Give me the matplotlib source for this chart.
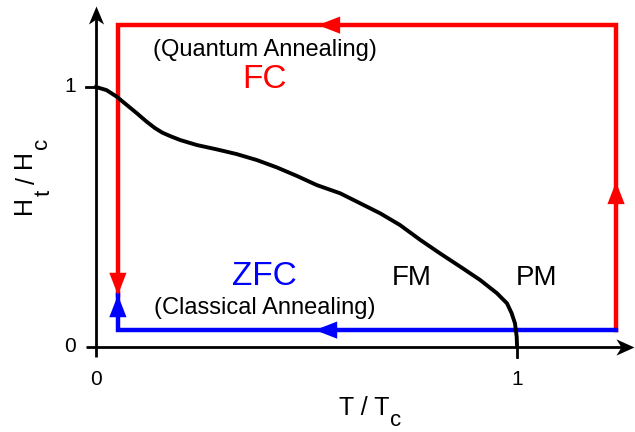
import matplotlib.pyplot as plt
import numpy as np
from matplotlib.path import Path

plt.rcParams['font.family'] = ['Liberation Sans', 'DejaVu Sans']

# phase boundary H_t/H_c vs T/T_c
curve_t = [0.0, 0.025, 0.049, 0.073, 0.097, 0.120, 0.140, 0.158, 0.178, 0.200, 0.239, 0.287,
           0.334, 0.382, 0.429, 0.477, 0.524, 0.580, 0.627, 0.675, 0.722, 0.770, 0.817,
           0.865, 0.912, 0.952, 0.976, 0.987, 0.995, 0.999, 1.0]
curve_h = [1.0, 0.988, 0.963, 0.931, 0.899, 0.867, 0.842, 0.824, 0.810, 0.796, 0.777, 0.760,
           0.742, 0.719, 0.691, 0.658, 0.623, 0.591, 0.553, 0.514, 0.469, 0.412, 0.360,
           0.309, 0.258, 0.207, 0.168, 0.130, 0.091, 0.040, 0.0]

# field-cooled loop (red) and zero-field-cooled path (blue)
fc_t = [1.235, 1.235, 0.052, 0.052]
fc_h = [0.065, 1.238, 1.238, 0.2]
zfc_t = [1.235, 0.052, 0.052]
zfc_h = [0.065, 0.065, 0.2]

# direction arrows: (tail, tip)
fc_arrows = [((1.235, 0.55), (1.235, 0.635)),
             ((0.60, 1.238), (0.527, 1.238)),
             ((0.052, 0.29), (0.052, 0.2))]
zfc_arrows = [((0.60, 0.065), (0.52, 0.065)),
              ((0.052, 0.11), (0.052, 0.2))]

RED = '#ff0000'
BLUE = '#0000ff'

fig = plt.figure(figsize=(6.35, 4.32), dpi=100)
ax = fig.add_axes([96/635, 85/432, 539/635, 338/432])
ax.set_xlim(0, 1.28)
ax.set_ylim(0, 1.3)
ax.axis('off')

def px(x, y):
    # figure pixel (from top-left) -> figure fraction
    return x / 635, 1 - y / 432

# axes with notched arrow heads
up_head = Path([(0, 0), (-0.42, -1), (0, -0.72), (0.42, -1), (0, 0)],
               [Path.MOVETO, Path.LINETO, Path.LINETO, Path.LINETO, Path.CLOSEPOLY])
right_head = Path([(0, 0), (-1, 0.45), (-0.72, 0), (-1, -0.45), (0, 0)],
                  [Path.MOVETO, Path.LINETO, Path.LINETO, Path.LINETO, Path.CLOSEPOLY])
ax.plot([-0.024, 1.26], [0, 0], color='k', lw=2, clip_on=False, solid_capstyle='butt')
ax.plot([0, 0], [-0.04, 1.29], color='k', lw=2, clip_on=False, solid_capstyle='butt')
ax.plot([1.278], [0], marker=right_head, ms=26, color='k', mec='none', clip_on=False)
ax.plot([0], [1.31], marker=up_head, ms=26, color='k', mec='none', clip_on=False)

# ticks
ax.plot([1, 1], [0, -0.04], color='k', lw=2, clip_on=False)
ax.plot([-0.024, 0], [1, 1], color='k', lw=2, clip_on=False)

ax.text(0, -0.125, '0', ha='center', va='center', fontsize=15)
ax.text(1, -0.125, '1', ha='center', va='center', fontsize=15)
ax.text(-0.062, 0, '0', ha='center', va='center', fontsize=15)
ax.text(-0.062, 1, '1', ha='center', va='center', fontsize=15)

# axis labels with full-size subscripts
fig.text(*px(364, 408), 'T / T', ha='center', va='center', fontsize=18)
fig.text(*px(396, 421), 'c', ha='center', va='center', fontsize=16)
fig.text(*px(24, 205), 'H', ha='center', va='center', fontsize=18, rotation=90)
fig.text(*px(44, 193), 't', ha='center', va='center', fontsize=16, rotation=90)
fig.text(*px(28, 180), '/', ha='center', va='center', fontsize=18, rotation=90)
fig.text(*px(24, 159), 'H', ha='center', va='center', fontsize=18, rotation=90)
fig.text(*px(41, 143), 'c', ha='center', va='center', fontsize=16, rotation=90)

ax.plot(fc_t, fc_h, color=RED, lw=3.2, clip_on=False, solid_joinstyle='miter')
ax.plot(zfc_t, zfc_h, color=BLUE, lw=3.2, clip_on=False, solid_joinstyle='miter')
ax.plot(curve_t, curve_h, color='k', lw=2.8, clip_on=False, solid_joinstyle='round')

head = '-|>,head_length=1.6,head_width=0.62'
for (tail, tip) in fc_arrows:
    ax.annotate('', xy=tip, xytext=tail,
                arrowprops=dict(arrowstyle=head, color=RED, lw=0, shrinkA=0, shrinkB=0),
                annotation_clip=False)
for (tail, tip) in zfc_arrows:
    ax.annotate('', xy=tip, xytext=tail,
                arrowprops=dict(arrowstyle=head, color=BLUE, lw=0, shrinkA=0, shrinkB=0),
                annotation_clip=False)

ax.text(0.402, 1.143, '(Quantum Annealing)', ha='center', va='center', fontsize=17)
ax.text(0.4, 1.028, 'FC', ha='center', va='center', fontsize=24, color=RED)
ax.text(0.4, 0.273, 'ZFC', ha='center', va='center', fontsize=24, color=BLUE)
ax.text(0.4, 0.15, '(Classical Annealing)', ha='center', va='center', fontsize=17)
ax.text(0.75, 0.265, 'FM', ha='center', va='center', fontsize=20)
ax.text(1.047, 0.265, 'PM', ha='center', va='center', fontsize=20)

fig.savefig('out.png', dpi=100)
